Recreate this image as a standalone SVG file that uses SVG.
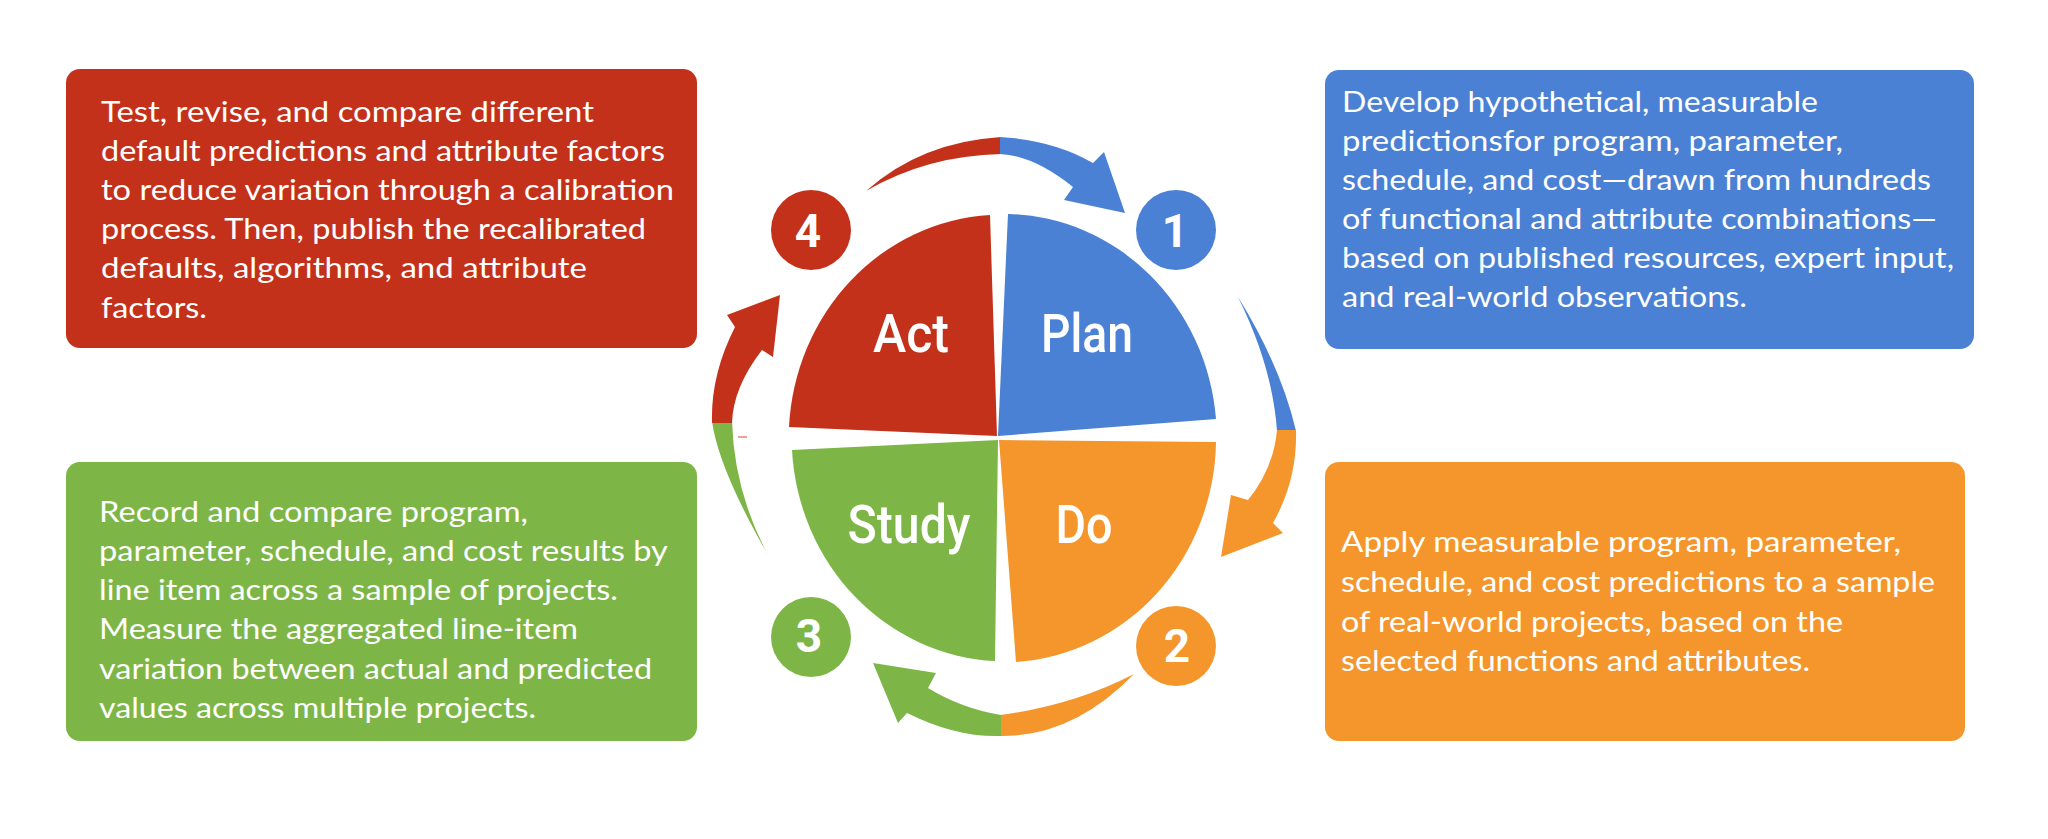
<svg xmlns="http://www.w3.org/2000/svg" width="2048" height="839" viewBox="0 0 2048 839">
<style>
.red{fill:#C4311B}.blue{fill:#4A81D4}.orange{fill:#F4962C}.green{fill:#7DB647}
.bt{font-family:Lato,"Liberation Sans",sans-serif;font-size:29px;fill:#fff}
.ql{font-family:Roboto,"Liberation Sans",sans-serif;font-size:54px;font-weight:500;fill:#fff;text-anchor:middle}
.num{font-family:Roboto,"Liberation Sans",sans-serif;font-size:46px;font-weight:bold;fill:#fff;text-anchor:middle}
</style>
<rect width="2048" height="839" fill="#fff"/>

<g id="box-act">
<rect class="red" x="66" y="69" width="631" height="279" rx="14"/>
<text class="bt">
<tspan x="101" y="122" textLength="493" lengthAdjust="spacingAndGlyphs">Test, revise, and compare different</tspan>
<tspan x="101" y="161" textLength="564" lengthAdjust="spacingAndGlyphs">default predictions and attribute factors</tspan>
<tspan x="101" y="200" textLength="573" lengthAdjust="spacingAndGlyphs">to reduce variation through a calibration</tspan>
<tspan x="101" y="239" textLength="545" lengthAdjust="spacingAndGlyphs">process. Then, publish the recalibrated</tspan>
<tspan x="101" y="278" textLength="486" lengthAdjust="spacingAndGlyphs">defaults, algorithms, and attribute</tspan>
<tspan x="101" y="318" textLength="106" lengthAdjust="spacingAndGlyphs">factors.</tspan>
</text>
</g>

<g id="box-plan">
<rect class="blue" x="1325" y="70" width="649" height="279" rx="14"/>
<text class="bt">
<tspan x="1342" y="112" textLength="476" lengthAdjust="spacingAndGlyphs">Develop hypothetical, measurable</tspan>
<tspan x="1342" y="151" textLength="501" lengthAdjust="spacingAndGlyphs">predictionsfor program, parameter,</tspan>
<tspan x="1342" y="190" textLength="589" lengthAdjust="spacingAndGlyphs">schedule, and cost—drawn from hundreds</tspan>
<tspan x="1342" y="229" textLength="595" lengthAdjust="spacingAndGlyphs">of functional and attribute combinations—</tspan>
<tspan x="1342" y="268" textLength="612" lengthAdjust="spacingAndGlyphs">based on published resources, expert input,</tspan>
<tspan x="1342" y="307" textLength="405" lengthAdjust="spacingAndGlyphs">and real-world observations.</tspan>
</text>
</g>

<g id="box-study">
<rect class="green" x="66" y="462" width="631" height="279" rx="14"/>
<text class="bt">
<tspan x="99" y="522" textLength="429" lengthAdjust="spacingAndGlyphs">Record and compare program,</tspan>
<tspan x="99" y="561" textLength="568" lengthAdjust="spacingAndGlyphs">parameter, schedule, and cost results by</tspan>
<tspan x="99" y="600" textLength="519" lengthAdjust="spacingAndGlyphs">line item across a sample of projects.</tspan>
<tspan x="99" y="639" textLength="479" lengthAdjust="spacingAndGlyphs">Measure the aggregated line-item</tspan>
<tspan x="99" y="679" textLength="553" lengthAdjust="spacingAndGlyphs">variation between actual and predicted</tspan>
<tspan x="99" y="718" textLength="437" lengthAdjust="spacingAndGlyphs">values across multiple projects.</tspan>
</text>
</g>

<g id="box-do">
<rect class="orange" x="1325" y="462" width="640" height="279" rx="14"/>
<text class="bt">
<tspan x="1341" y="552" textLength="560" lengthAdjust="spacingAndGlyphs">Apply measurable program, parameter,</tspan>
<tspan x="1341" y="592" textLength="594" lengthAdjust="spacingAndGlyphs">schedule, and cost predictions to a sample</tspan>
<tspan x="1341" y="632" textLength="502" lengthAdjust="spacingAndGlyphs">of real-world projects, based on the</tspan>
<tspan x="1341" y="671" textLength="469" lengthAdjust="spacingAndGlyphs">selected functions and attributes.</tspan>
</text>
</g>

<g id="quad-act">
<path class="red" d="M997,436 L789,427 A213 224 0 0 1 990,215 Z"/>
<text class="ql" x="911" y="352" textLength="76" lengthAdjust="spacingAndGlyphs">Act</text>
</g>
<g id="quad-plan">
<path class="blue" d="M998,436 L1008,214 A213 224 0 0 1 1216,419 Z"/>
<text class="ql" x="1087" y="352" textLength="92" lengthAdjust="spacingAndGlyphs">Plan</text>
</g>
<g id="quad-do">
<path class="orange" d="M999,440 L1216,442 A213 224 0 0 1 1016,662 Z"/>
<text class="ql" x="1084" y="543" textLength="57" lengthAdjust="spacingAndGlyphs">Do</text>
</g>
<g id="quad-study">
<path class="green" d="M998,440 L995,661 A213 224 0 0 1 792,450 Z"/>
<text class="ql" x="909" y="543" textLength="123" lengthAdjust="spacingAndGlyphs">Study</text>
</g>

<g id="step-1">
<circle class="blue" cx="1176" cy="230" r="40"/>
<text class="num" x="1175" y="247">1</text>
</g>
<g id="step-2">
<circle class="orange" cx="1176" cy="646" r="40"/>
<text class="num" x="1177" y="662">2</text>
</g>
<g id="step-3">
<circle class="green" cx="811" cy="637" r="40"/>
<text class="num" x="809" y="652">3</text>
</g>
<g id="step-4">
<circle class="red" cx="811" cy="230" r="40"/>
<text class="num" x="808" y="247">4</text>
</g>

<g id="connectors">
<path class="red" d="M866,191 Q921,142 1001,137 L1001,154 Q927,155.5 866,191 Z"/>
<path class="blue" d="M1000,137 Q1053.5,140 1093,163 L1104,152 L1125,213 L1064,200 L1073,187 Q1033.5,155.5 1000,154 Z"/>
<path class="blue" d="M1238,297 Q1281,366.5 1296,431 L1277,431 Q1272.5,366.5 1238,297 Z"/>
<path class="orange" d="M1296,430 Q1297.5,479.5 1273,523 L1283,533 L1221,557 L1231,495 L1248,500 Q1273.5,469 1277,430 Z"/>
<path class="orange" d="M1134,674 Q1073,737 1000,736 L1000,715 Q1073,705.5 1134,674 Z"/>
<path class="green" d="M1001,736 Q956,737.5 907,713 L898,723 L873,663 L936,673 L928,688 Q961.5,708.5 1001,715 Z"/>
<path class="green" d="M768,555 Q718,467.5 712,421 L732,421 Q734,491.5 768,555 Z"/>
<path class="red" d="M712,423 Q710.5,375 735,327 L727,315 L780,295 L773,357 L762,350 Q733,387.5 732,423 Z"/>
<rect x="738" y="436" width="9" height="2" fill="#E8A49A"/>
</g>
</svg>
